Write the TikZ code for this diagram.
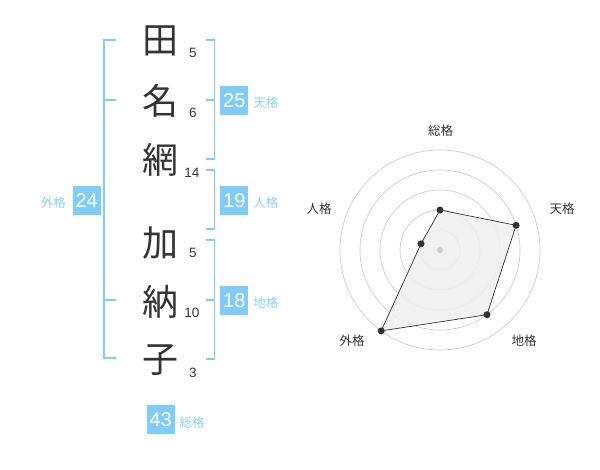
\documentclass[tikz,border=0pt]{standalone}
\usepackage{fontspec}
\setmainfont{Liberation Sans}
\newfontfamily\jp{Noto Sans CJK JP}
\definecolor{boxblue}{HTML}{80CCF8}
\definecolor{lblblue}{HTML}{8CCFF5}
\definecolor{txt}{HTML}{333333}
\definecolor{grid}{HTML}{CCCCCC}
\definecolor{fillg}{HTML}{EFEFEF}
\begin{document}
\begin{tikzpicture}[x=1pt,y=-1pt,
  kanji/.style={text=txt,font=\jp\fontsize{36}{36}\selectfont,inner sep=0},
  strokes/.style={text=txt,font=\fontsize{13.5}{13.5}\selectfont,inner sep=0},
  bracket/.style={draw=boxblue,line width=1.6pt},
  valbox/.style={fill=boxblue,text=white,minimum width=28,minimum height=29,inner sep=0,font=\fontsize{20}{20}\selectfont},
  vallabel/.style={text=lblblue,font=\jp\fontsize{12.5}{12.5}\selectfont,inner sep=0},
  radarlabel/.style={text=txt,font=\jp\fontsize{12.5}{12.5}\selectfont,inner sep=0},
  gridc/.style={draw=grid,line width=0.7pt},
  dot/.style={circle,fill=txt,minimum size=7,inner sep=0},
]
\useasboundingbox (0,0) rectangle (600,470);
% characters
\node[kanji] (c1) at (160,41) {田};
\node[kanji] (c2) at (160,101) {名};
\node[kanji] (c3) at (160,160) {網};
\node[kanji] (c4) at (160,243) {加};
\node[kanji] (c5) at (160,302) {納};
\node[kanji] (c6) at (160,360) {子};
% stroke counts
\node[strokes] (s1) at (193,53) {5};
\node[strokes] (s2) at (193,113) {6};
\node[strokes] (s3) at (192,173) {14};
\node[strokes] (s4) at (193,253) {5};
\node[strokes] (s5) at (192,313) {10};
\node[strokes] (s6) at (193,373) {3};
% left bracket (gaikaku)
\draw[bracket] (116,40) -- (104,40) -- (104,358) -- (116,358);
\draw[bracket] (104,100) -- (116,100);
\draw[bracket] (104,300) -- (116,300);
% right brackets
\draw[bracket] (205.5,40) -- (214.5,40) -- (214.5,159) -- (205.5,159);
\draw[bracket] (205.5,100) -- (214.5,100);
\draw[bracket] (205.5,170) -- (214.5,170) -- (214.5,229) -- (205.5,229);
\draw[bracket] (205.5,240) -- (214.5,240) -- (214.5,359) -- (205.5,359);
\draw[bracket] (205.5,300) -- (214.5,300);
% value boxes
\node[valbox] (b25) at (234.3,100.5) {25};
\node[vallabel] (l25) at (265.8,103) {天格};
\node[valbox] (b19) at (234.3,200.5) {19};
\node[vallabel] (l19) at (265.8,203) {人格};
\node[valbox] (b18) at (234.3,300.5) {18};
\node[vallabel] (l18) at (265.8,303) {地格};
\node[valbox] (b24) at (86.7,200.5) {24};
\node[vallabel] (l24) at (53.3,203) {外格};
\node[valbox] (b43) at (160.7,419.2) {43};
\node[vallabel] (l43) at (192,422.5) {総格};
% radar chart
\coordinate (ctr) at (440,250);
\foreach \r in {20,40,60,80,100} \draw[gridc] (ctr) circle[radius=\r];
\coordinate (pS) at (440,210);
\coordinate (pT) at (516.1,225.3);
\coordinate (pC) at (487.0,314.7);
\coordinate (pG) at (381.2,330.9);
\coordinate (pJ) at (421.0,243.8);
\draw[fill=fillg,fill opacity=0.85,draw=txt,line width=0.7pt] (pS) -- (pT) -- (pC) -- (pG) -- (pJ) -- cycle;
\node[circle,fill=grid,minimum size=6,inner sep=0] (cdot) at (ctr) {};
\foreach \p in {pS,pT,pC,pG,pJ} \node[dot] at (\p) {};
\node[radarlabel] (rS) at (440.7,130.7) {総格};
\node[radarlabel] (rT) at (562,209) {天格};
\node[radarlabel] (rC) at (524,341) {地格};
\node[radarlabel] (rG) at (352,341) {外格};
\node[radarlabel] (rJ) at (319,209) {人格};
\end{tikzpicture}
\end{document}
